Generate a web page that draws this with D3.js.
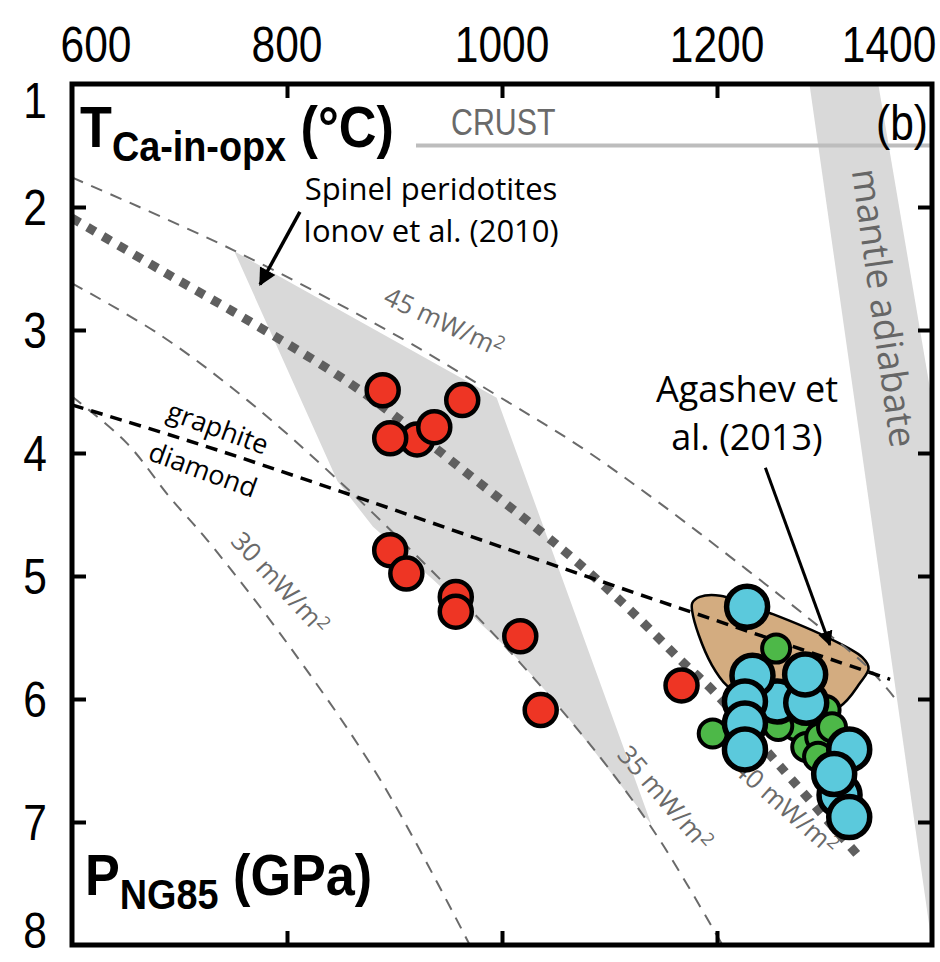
<!DOCTYPE html>
<html>
<head>
<meta charset="utf-8">
<script src="https://cdn.jsdelivr.net/npm/d3@7"></script>
<style>
  body { margin: 0; background: #fff; }
  svg { display: block; }
  .narrow { font-family: "Liberation Sans", Arial, sans-serif; }
  .note { font-family: "Open Sans", "Noto Sans", sans-serif; }
</style>
</head>
<body>
<div id="chart"></div>
<script>
let width = 940, height = 962;
let margin = { top: 84, right: 8, bottom: 17, left: 72 };
let squeeze = 0.85; // fake a condensed face

// tick values
const tempTicks = [600, 800, 1000, 1200, 1400];
const presTicks = [1, 2, 3, 4, 5, 6, 7, 8];

// samples: T (°C), P (GPa)
const redT = [889, 963, 921, 896, 937, 896, 911, 957, 957, 1017, 1036, 1167];
const redP = [3.49, 3.57, 3.89, 3.88, 3.79, 4.79, 4.98, 5.17, 5.29, 5.49, 6.09, 5.89];
const greenT = [1255, 1196, 1301, 1274, 1283, 1296, 1257, 1294, 1307];
const greenP = [5.59, 6.28, 6.09, 6.22, 6.39, 6.31, 6.22, 6.47, 6.23];
const cyanT = [1228, 1256, 1283, 1233, 1282, 1226, 1226, 1226, 1323, 1314, 1323, 1309];
const cyanP = [5.25, 6.02, 6.03, 5.81, 5.80, 6.02, 6.20, 6.41, 6.41, 6.78, 6.96, 6.61];

// geotherms
const geo45T = [600, 750, 905, 995, 1073, 1147, 1228, 1289, 1340, 1367];
const geo45P = [1.76, 2.35, 3.06, 3.53, 3.95, 4.41, 4.95, 5.37, 5.74, 6.01];
const geo40T = [600, 682, 775, 868, 964, 1057, 1116, 1168, 1196, 1259, 1333];
const geo40P = [2.09, 2.51, 2.98, 3.49, 4.14, 4.79, 5.25, 5.70, 5.93, 6.55, 7.29];
const geo35T = [600, 682, 763, 845, 936, 1010, 1091, 1147, 1205];
const geo35P = [2.62, 3.04, 3.57, 4.20, 4.97, 5.64, 6.47, 7.15, 8.0];
const geo30T = [600, 651, 691, 726, 803, 887, 970];
const geo30P = [3.54, 3.92, 4.36, 4.71, 5.58, 6.66, 8.0];

// graphite / diamond transition
const gdT = [600, 719, 849, 1091, 1361];
const gdP = [3.61, 3.93, 4.31, 5.04, 5.84];

// fields
const spinelT = [751, 995, 1139, 1054, 1010, 936, 880, 847];
const spinelP = [2.36, 3.55, 7.02, 6.07, 5.63, 5.03, 4.60, 4.23];
const adiabatT = [1286, 1350, 1486, 1400];
const adiabatP = [1, 1, 8, 8];
const agashevT = [1177, 1184, 1203, 1252, 1303, 1335, 1341, 1333, 1313, 1259, 1209, 1195, 1183, 1177];
const agashevP = [5.22, 5.17, 5.16, 5.31, 5.50, 5.66, 5.75, 5.87, 6.07, 6.19, 5.89, 5.72, 5.48, 5.29];
const crustT = [920, 1400];
const crustP = [1.5, 1.5];

let pts = (a, b) => a.map((d, i) => [d, b[i]]);

let x = d3.scaleLinear().domain([600, 1400]).range([margin.left, width - margin.right]);
let y = d3.scaleLinear().domain([1, 8]).range([margin.top, height - margin.bottom]);

const svg = d3.select('#chart').append('svg')
  .attr('width', width).attr('height', height);

const defs = svg.append('defs');
defs.append('clipPath').attr('id', 'plotClip')
  .append('rect')
  .attr('x', x(600)).attr('y', y(1))
  .attr('width', x(1400) - x(600)).attr('height', y(8) - y(1));
defs.append('marker')
  .attr('id', 'arrow')
  .attr('viewBox', '0 0 10 10')
  .attr('refX', 9).attr('refY', 5)
  .attr('markerWidth', 5).attr('markerHeight', 5)
  .attr('markerUnits', 'strokeWidth')
  .attr('orient', 'auto')
  .append('path').attr('d', 'M0,0L10,5L0,10z').attr('fill', '#000');

const plot = svg.append('g').attr('clip-path', 'url(#plotClip)');

let poly = d3.line().x(d => x(d[0])).y(d => y(d[1]));
let curve = d3.line().x(d => x(d[0])).y(d => y(d[1])).curve(d3.curveCatmullRom);

// grey fields
plot.append('path').attr('d', poly(pts(spinelT, spinelP)) + 'Z').attr('fill', '#d9d9d9');
plot.append('path').attr('d', poly(pts(adiabatT, adiabatP)) + 'Z').attr('fill', '#d9d9d9');

// Agashev field
plot.append('path')
  .attr('d', d3.line().x(d => x(d[0])).y(d => y(d[1])).curve(d3.curveCatmullRomClosed)(pts(agashevT, agashevP)))
  .attr('fill', '#d3ac80').attr('stroke', '#000').attr('stroke-width', 2.5);

// crust line
plot.append('path').attr('d', poly(pts(crustT, crustP)))
  .attr('stroke', '#bdbdbd').attr('stroke-width', 4).attr('fill', 'none');

// thin geotherms
[[geo45T, geo45P], [geo35T, geo35P], [geo30T, geo30P]].forEach(g => {
  plot.append('path').attr('d', curve(pts(g[0], g[1])))
    .attr('fill', 'none').attr('stroke', '#6a6a6a')
    .attr('stroke-width', 2).attr('stroke-dasharray', '12,9');
});

// 40 mW/m2 geotherm
plot.append('path').attr('d', curve(pts(geo40T, geo40P)))
  .attr('fill', 'none').attr('stroke', '#5f5f5f')
  .attr('stroke-width', 9).attr('stroke-dasharray', '9,9');

// graphite-diamond
plot.append('path').attr('d', curve(pts(gdT, gdP)))
  .attr('fill', 'none').attr('stroke', '#000')
  .attr('stroke-width', 3.5).attr('stroke-dasharray', '12,8');

// geotherm labels
let geoLabel = (txt, cx, cy, ang) => {
  const t = svg.append('text').attr('class', 'note')
    .attr('transform', `translate(${cx},${cy}) rotate(${ang})`)
    .attr('text-anchor', 'middle').attr('dy', '0.35em')
    .attr('font-size', 26).attr('fill', '#6a6a6a');
  t.append('tspan').text(txt + ' mW/m');
  t.append('tspan').attr('dy', '-0.45em').attr('font-size', 18).text('2');
};
geoLabel('45', 444, 322, 25);
geoLabel('30', 280, 583, 47);
geoLabel('35', 665, 798, 49);
geoLabel('40', 786, 807, 41.5);

// graphite / diamond labels
svg.append('text').attr('class', 'note')
  .attr('transform', 'translate(218,428) rotate(20)')
  .attr('text-anchor', 'middle').attr('dy', '0.35em')
  .attr('font-size', 27).text('graphite');
svg.append('text').attr('class', 'note')
  .attr('transform', 'translate(203,470) rotate(20)')
  .attr('text-anchor', 'middle').attr('dy', '0.35em')
  .attr('font-size', 27).text('diamond');

// samples
let addDots = (T, P, fill, r, sw) => {
  svg.append('g').selectAll('circle')
    .data(pts(T, P))
    .join('circle')
    .attr('cx', d => x(d[0]))
    .attr('cy', d => y(d[1]))
    .attr('r', r)
    .attr('fill', fill)
    .attr('stroke', '#000')
    .attr('stroke-width', sw);
};
addDots(redT, redP, '#ee3524', 16, 4.5);
addDots(greenT, greenP, '#4db848', 14, 4);
addDots(cyanT, cyanP, '#5bc9dc', 20.5, 5.5);

// annotations
svg.append('line')
  .attr('x1', x(812)).attr('y1', y(2.04))
  .attr('x2', x(775)).attr('y2', y(2.63))
  .attr('stroke', '#000').attr('stroke-width', 3.5)
  .attr('marker-end', 'url(#arrow)');
svg.append('line')
  .attr('x1', x(1245)).attr('y1', y(4.12))
  .attr('x2', x(1305)).attr('y2', y(5.56))
  .attr('stroke', '#000').attr('stroke-width', 3)
  .attr('marker-end', 'url(#arrow)');

let note = (txt, tx, ty, size, fill) =>
  svg.append('text').attr('class', 'note')
    .attr('x', tx).attr('y', ty)
    .attr('text-anchor', 'middle')
    .attr('font-size', size).attr('fill', fill || '#000').text(txt);

note('Spinel peridotites', 431, 200, 31);
note('Ionov et al. (2010)', 431, 242, 31);
note('Agashev et', 747, 402, 36);
note('al. (2013)', 747, 450, 36);

svg.append('text').attr('class', 'note')
  .attr('transform', 'translate(884,308) rotate(82)')
  .attr('text-anchor', 'middle').attr('dy', '0.35em')
  .attr('font-size', 37).attr('fill', '#666').text('mantle adiabate');

svg.append('text').attr('class', 'narrow')
  .attr('transform', 'translate(451,135) scale(0.82,1)')
  .attr('font-size', 37).attr('fill', '#6a6a6a').text('CRUST');
svg.append('text').attr('class', 'narrow')
  .attr('transform', 'translate(928,140) scale(0.85,1)').attr('text-anchor', 'end')
  .attr('font-size', 50).text('(b)');

// axis titles
const tTitle = svg.append('text').attr('class', 'narrow')
  .attr('transform', 'translate(80,147) scale(0.9,1)')
  .attr('font-weight', 'bold').attr('font-size', 58);
tTitle.append('tspan').text('T');
tTitle.append('tspan').attr('dy', 14).attr('font-size', 42).text('Ca-in-opx');
tTitle.append('tspan').attr('dy', -14).text(' (°C)');

const pTitle = svg.append('text').attr('class', 'narrow')
  .attr('transform', 'translate(85,895) scale(0.9,1)')
  .attr('font-weight', 'bold').attr('font-size', 58);
pTitle.append('tspan').text('P');
pTitle.append('tspan').attr('dy', 14).attr('font-size', 42).text('NG85');
pTitle.append('tspan').attr('dy', -14).text(' (GPa)');

// frame and ticks
let inner = [800, 1000, 1200];
let innerP = presTicks.slice(1, -1);
svg.append('g').attr('transform', `translate(0,${y(1)})`)
  .call(d3.axisBottom(x).tickValues(inner).tickSize(14).tickFormat(''))
  .call(g => g.select('.domain').remove());
svg.append('g').attr('transform', `translate(0,${y(8)})`)
  .call(d3.axisTop(x).tickValues(inner).tickSize(14).tickFormat(''))
  .call(g => g.select('.domain').remove());
svg.append('g').attr('transform', `translate(${x(600)},0)`)
  .call(d3.axisRight(y).tickValues(innerP).tickSize(14).tickFormat(''))
  .call(g => g.select('.domain').remove());
svg.append('g').attr('transform', `translate(${x(1400)},0)`)
  .call(d3.axisLeft(y).tickValues(innerP).tickSize(14).tickFormat(''))
  .call(g => g.select('.domain').remove());
svg.selectAll('.tick line').attr('stroke', '#000').attr('stroke-width', 4);

svg.append('rect')
  .attr('x', x(600)).attr('y', y(1))
  .attr('width', x(1400) - x(600)).attr('height', y(8) - y(1))
  .attr('fill', 'none').attr('stroke', '#000').attr('stroke-width', 5);

// tick labels (corner ones nudged inward like the original)
let tempShift = (d) => (d === 600 ? 24 : d === 1400 ? -43 : 0);
svg.append('g').selectAll('text')
  .data(tempTicks)
  .join('text')
  .attr('class', 'narrow')
  .attr('transform', d => `translate(${x(d) + tempShift(d)},62) scale(${squeeze},1)`)
  .attr('text-anchor', 'middle')
  .attr('font-size', 50)
  .text(d3.format('d'));

let presShift = (d) => (d === 1 ? 16 : d === 8 ? -15 : 0);
svg.append('g').selectAll('text')
  .data(presTicks)
  .join('text')
  .attr('class', 'narrow')
  .attr('transform', d => `translate(35,${y(d) + presShift(d) + 18}) scale(${squeeze},1)`)
  .attr('text-anchor', 'middle')
  .attr('font-size', 50)
  .text(d3.format('d'));
</script>
</body>
</html>
